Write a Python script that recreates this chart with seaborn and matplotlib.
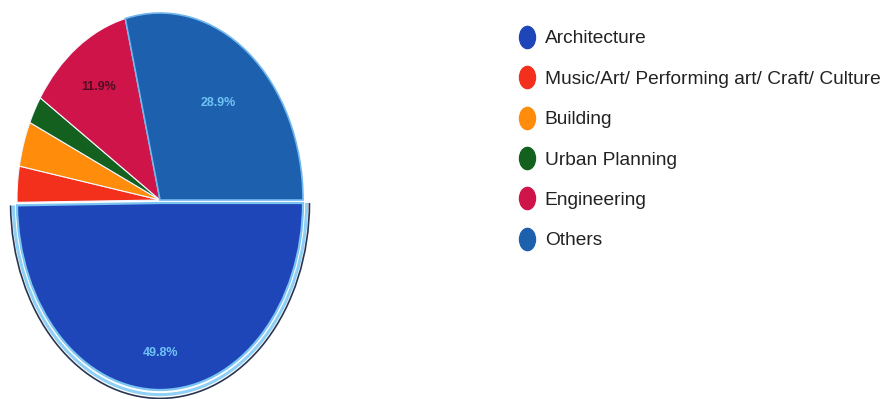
import matplotlib
matplotlib.use("Agg")
import matplotlib.pyplot as plt
from matplotlib.patches import Arc
from matplotlib.lines import Line2D
from matplotlib.path import Path
from matplotlib.transforms import Affine2D
import numpy as np
import seaborn as sns

sns.set_theme(style="white")
plt.rcParams["font.family"] = ["Liberation Sans", "DejaVu Sans"]

categories = [
    "Architecture",
    "Music/Art/ Performing art/ Craft/ Culture",
    "Building",
    "Urban Planning",
    "Engineering",
    "Others",
]
shares = [49.8, 3.1, 3.9, 2.4, 11.9, 28.9]
colors = ["#1f46b9", "#f3301c", "#ff8c0a", "#14601f", "#cf1449", "#1d60ae"]
label_colors = ["#6ec3f4", None, None, None, "#4f0d22", "#6ec3f4"]
label_dist = [0.8, 0.7, 0.7, 0.7, 0.74, 0.66]

W, H, DPI = 895, 399, 100
fig = plt.figure(figsize=(W / DPI, H / DPI), dpi=DPI)

# pie axes laid out in pixels so the pie comes out as a tall ellipse
cx, cy, rx, ry = 160, 200, 143, 187
lim = 1.07
ax = fig.add_axes([
    (cx - lim * rx) / W,
    (H - cy - lim * ry) / H,
    2 * lim * rx / W,
    2 * lim * ry / H,
])

explode = [0.016, 0, 0, 0, 0, 0]
wedges, _ = ax.pie(
    shares,
    colors=colors,
    startangle=0,
    counterclock=False,
    explode=explode,
    wedgeprops=dict(edgecolor="#f4f8ff", linewidth=0.8),
)
ax.set_xlim(-lim, lim)
ax.set_ylim(-lim, lim)
ax.set_aspect("auto")
ax.axis("off")

# highlighted Architecture slice: light edge plus an outer selection ring
arch = wedges[0]
arch.set_edgecolor("#7cc4f2")
arch.set_linewidth(1.6)
acx, acy = arch.center
ax.add_patch(Arc((acx, acy), 2.05, 2.05, theta1=arch.theta1, theta2=arch.theta2,
                 color="#8fd0f6", lw=2.2, clip_on=False))
ax.add_patch(Arc((acx, acy), 2.09, 2.09, theta1=arch.theta1, theta2=arch.theta2,
                 color="#2a3550", lw=1.2, clip_on=False))
wedges[5].set_edgecolor("#6fb6ee")
wedges[5].set_linewidth(1.2)

# percentage labels on the larger slices
for w, v, c, d in zip(wedges, shares, label_colors, label_dist):
    if c is None:
        continue
    mid = np.deg2rad((w.theta1 + w.theta2) / 2)
    x = w.center[0] + d * np.cos(mid)
    y = w.center[1] + d * np.sin(mid)
    ax.text(x, y, f"{v:.1f}%", ha="center", va="center", fontsize=9,
            fontweight="bold", color=c)

# legend with oval markers
oval = Path.unit_circle().transformed(Affine2D().scale(0.72, 1.0))
handles = [
    Line2D([], [], linestyle="none", marker=oval, markersize=16,
           markerfacecolor=c, markeredgecolor=c)
    for c in colors
]
fig.legend(
    handles, categories,
    loc="upper left",
    bbox_to_anchor=(518 / W, 1 - 30 / H),
    frameon=False,
    fontsize=13.8,
    labelspacing=1.2,
    handlelength=0.9,
    handletextpad=0.5,
    borderaxespad=0,
    borderpad=0,
    labelcolor="#222222",
)

fig.savefig("out.png", dpi=DPI, facecolor="white")
